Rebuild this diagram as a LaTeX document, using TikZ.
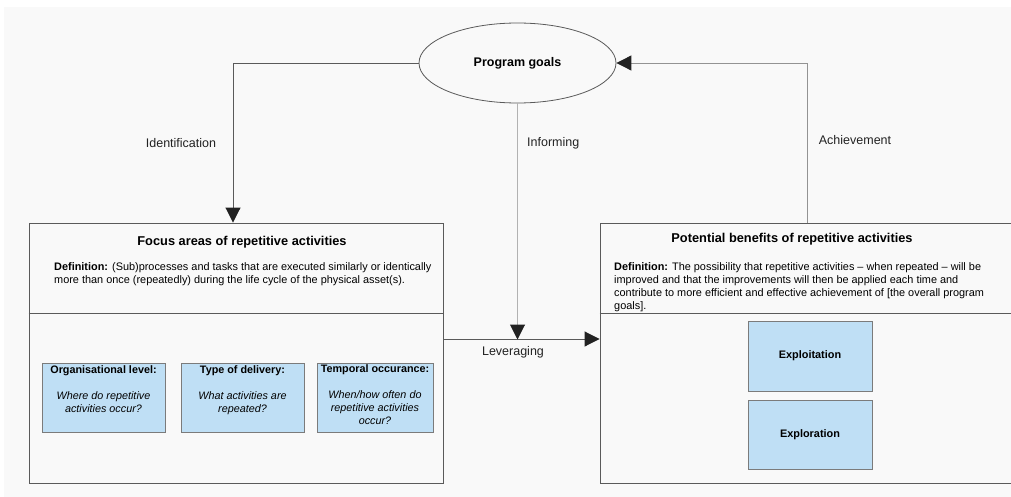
\documentclass[tikz,border=0pt]{standalone}
\usepackage{fontspec}
\setmainfont{Liberation Sans}
\usetikzlibrary{arrows.meta,shapes.geometric,positioning,calc}
\definecolor{bgpage}{RGB}{249,249,249}
\definecolor{boxline}{RGB}{90,90,90}
\definecolor{lightfill}{RGB}{191,223,245}
\definecolor{inkdark}{RGB}{34,34,34}

\begin{document}
\begin{tikzpicture}[x=1pt,y=-1pt,
    font=\color{inkdark},
    frame/.style={draw=boxline, line width=0.9pt, rectangle, inner sep=0pt},
    bluebox/.style={draw=boxline!80, fill=lightfill, line width=1pt, rectangle, inner sep=0pt},
    flow/.style={draw=boxline, line width=0.9pt, -{Triangle[length=15pt,width=15pt,color=inkdark]}},
    flowlabel/.style={font=\fontsize{12.5}{15}\selectfont\color{inkdark}, inner sep=0pt}]
    \useasboundingbox (0,0) rectangle (1011,497);
    \clip (0,0) rectangle (1011,497);
    \fill[bgpage] (4,7) rectangle (1011,497);

    % Program goals
    \node[ellipse, draw=boxline, line width=0.8pt, fill=bgpage, minimum width=197pt, minimum height=80pt, font=\fontsize{12.5}{15}\selectfont\bfseries] (goals) at (517.5,63) {Program goals};

    % Focus areas box (left)
    \node[frame, minimum width=414pt, minimum height=260pt] (focus) at (236,353) {};
    \draw[boxline, line width=0.9pt] (focus.west |- 0,313) -- (focus.east |- 0,313);
    \node[font=\fontsize{12.8}{15}\selectfont\bfseries, inner sep=0pt] (focustitle) at (242,242) {Focus areas of repetitive activities};
    \node[anchor=north west, align=left, inner sep=0pt, font=\fontsize{10.9}{13}\selectfont] (focusdef) at (54,262)
        {\textbf{Definition:} (Sub)processes and tasks that are executed similarly or identically\\
         more than once (repeatedly) during the life cycle of the physical asset(s).};

    % the three focus areas
    \node[bluebox, minimum width=123pt, minimum height=69pt] (orglevel) at (103.5,397.5) {};
    \node[bluebox, minimum width=123pt, minimum height=69pt] (delivery) at (242.5,397.5) {};
    \node[bluebox, minimum width=116pt, minimum height=69pt] (temporal) at (375,397.5) {};
    \node[anchor=north, align=center, inner sep=0pt, font=\fontsize{10.8}{13}\selectfont] (orgtext) at ([yshift=-3pt]orglevel.north)
        {\textbf{Organisational level:}\\[13pt]\textit{Where do repetitive}\\\textit{activities occur?}};
    \node[anchor=north, align=center, inner sep=0pt, font=\fontsize{10.8}{13}\selectfont] (deltext) at ([yshift=-3pt]delivery.north)
        {\textbf{Type of delivery:}\\[13pt]\textit{What activities are}\\\textit{repeated?}};
    \node[anchor=north, align=center, inner sep=0pt, font=\fontsize{10.8}{13}\selectfont] (temptext) at ([yshift=-2pt]temporal.north)
        {\textbf{Temporal occurance:}\\[13pt]\textit{When/how often do}\\\textit{repetitive activities}\\\textit{occur?}};

    % Potential benefits box (right)
    \node[frame, minimum width=414pt, minimum height=260pt] (benefits) at (807,353) {};
    \draw[boxline, line width=0.9pt] (benefits.west |- 0,313) -- (benefits.east |- 0,313);
    \node[font=\fontsize{12.8}{15}\selectfont\bfseries, inner sep=0pt] (benefitstitle) at (792,239) {Potential benefits of repetitive activities};
    \node[anchor=north west, align=left, inner sep=0pt, font=\fontsize{10.9}{13}\selectfont] (benefitsdef) at (614,262)
        {\textbf{Definition:} The possibility that repetitive activities -- when repeated -- will be\\
         improved and that the improvements will then be applied each time and\\
         contribute to more efficient and effective achievement of [the overall program\\
         goals].};
    \node[bluebox, minimum width=124pt, minimum height=70pt, font=\fontsize{10.9}{13}\selectfont\bfseries] (exploit) at (810,356) {Exploitation};
    \node[bluebox, minimum width=124pt, minimum height=69pt, font=\fontsize{10.9}{13}\selectfont\bfseries] (explore) at (810,434.5) {Exploration};

    % connectors
    \coordinate (levstart) at (443,339);
    \draw[flow] (goals.west) -| ([xshift=-3pt]focus.north);
    \draw[flow, draw=gray!85] (benefits.north) |- (goals.east);
    \draw[flow] (levstart) -- (levstart -| benefits.west);
    \draw[flow, draw=gray!60, line width=1pt, shorten >=-0.5pt] (goals.south) -- (goals.south |- levstart);

    \node[flowlabel] (identlabel) at (181,143) {Identification};
    \node[flowlabel, anchor=west] (informlabel) at (527,143) {Informing};
    \node[flowlabel] (achievelabel) at (855,140) {Achievement};
    \node[flowlabel] (leveragelabel) at (513,352) {Leveraging};
\end{tikzpicture}
\end{document}
